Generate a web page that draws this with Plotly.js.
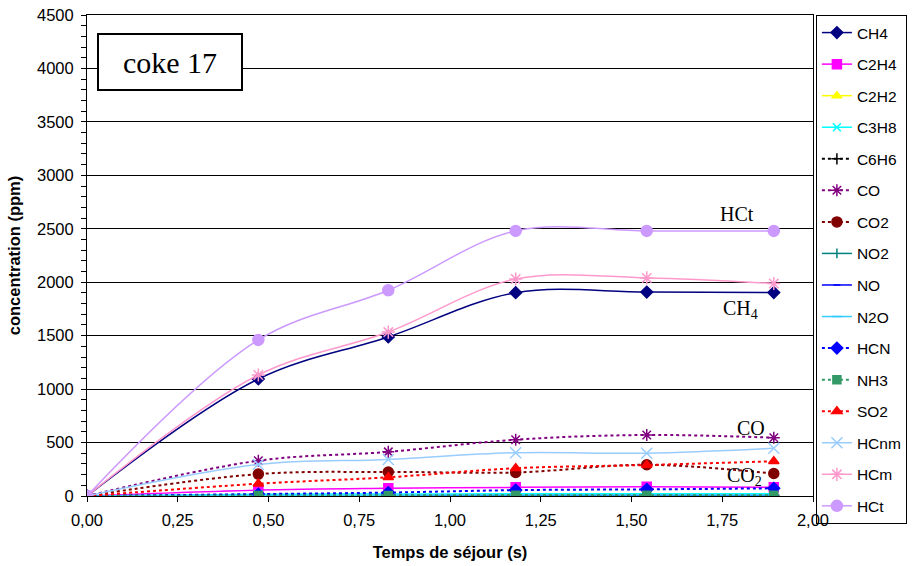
<!DOCTYPE html>
<html>
<head>
<meta charset="utf-8">
<script src="https://cdn.plot.ly/plotly-3.0.1.min.js"></script>
<style>html,body{margin:0;padding:0;background:#fff;}#chart{width:922px;height:566px;}</style>
</head>
<body>
<div id="chart"></div>
<script>
// Residence time (s)
const tempsSejour = [0, 0.472, 0.830, 1.181, 1.542, 1.892];
// Concentrations (ppm)
const CH4  = [0, 1095, 1488, 1902, 1908, 1903];
const C2H4 = [0, 55, 72, 81, 86, 82];
const C2H2 = [0, 2, 3, 4, 4, 4];
const C3H8 = [0, 16, 18, 20, 20, 20];
const C6H6 = [0, 5, 6, 7, 7, 7];
const CO   = [0, 330, 413, 527, 571, 545];
const CO2  = [0, 205, 225, 220, 292, 210];
const NO2  = [0, 3, 3, 4, 4, 4];
const NO   = [0, 2, 2, 2, 2, 2];
const N2O  = [0, 8, 8, 9, 9, 9];
const HCN  = [0, 18, 32, 55, 62, 72];
const NH3  = [0, 5, 5, 6, 6, 6];
const SO2  = [0, 115, 175, 260, 290, 325];
const HCnm = [0, 295, 342, 405, 400, 446];
const HCm  = [0, 1132, 1534, 2030, 2040, 1988];
const HCt  = [0, 1460, 1925, 2480, 2480, 2480];

const seriesNames = ["CH4","C2H4","C2H2","C3H8","C6H6","CO","CO2","NO2","NO","N2O","HCN","NH3","SO2","HCnm","HCm","HCt"];
const seriesData  = [CH4, C2H4, C2H2, C3H8, C6H6, CO, CO2, NO2, NO, N2O, HCN, NH3, SO2, HCnm, HCm, HCt];

const yTicks = [0,500,1000,1500,2000,2500,3000,3500,4000,4500];
const xTicks = [0,0.25,0.5,0.75,1,1.25,1.5,1.75,2];

const styles = [
  {color:"#000080", dash:"solid", symbol:"diamond", size:9, width:1.5},
  {color:"#FF00FF", dash:"solid", symbol:"square", size:9, width:1.5},
  {color:"#FFFF00", dash:"solid", symbol:"triangle-up", size:8, width:1.5},
  {color:"#00FFFF", dash:"solid", symbol:"x-thin-open", size:8, width:1.5},
  {color:"#000000", dash:"dot", symbol:"cross-thin-open", size:8, width:2},
  {color:"#800080", dash:"dot", symbol:"asterisk-open", size:10, width:2},
  {color:"#800000", dash:"dot", symbol:"circle", size:10, width:2},
  {color:"#008080", dash:"solid", symbol:"line-ns-open", size:7, width:1.5},
  {color:"#0000FF", dash:"solid", symbol:"line-ew-open", size:5, width:1.5},
  {color:"#33CCFF", dash:"solid", symbol:"line-ew-open", size:7, width:1.5},
  {color:"#0000FF", dash:"dot", symbol:"diamond", size:9, width:2},
  {color:"#339966", dash:"dot", symbol:"square", size:8, width:2},
  {color:"#FF0000", dash:"dot", symbol:"triangle-up", size:9, width:2},
  {color:"#99CCFF", dash:"solid", symbol:"x-thin-open", size:11, width:1.5},
  {color:"#FF99CC", dash:"solid", symbol:"asterisk-open", size:11, width:1.5},
  {color:"#CC99FF", dash:"solid", symbol:"circle", size:11, width:1.5}
];

const traces = seriesNames.map((name, i) => {
  const s = styles[i];
  return {
    x: tempsSejour, y: seriesData[i], name: name, legendgroup: name,
    type: "scatter", mode: "lines+markers",
    line: {color: s.color, dash: s.dash, width: s.width, shape: "spline", smoothing: 1},
    marker: {color: s.color, symbol: s.symbol, size: s.size, line: {color: s.color, width: 1.5}}
  };
});

const serif = "Liberation Serif, Times New Roman, serif";
const sans = "Liberation Sans, Arial, sans-serif";

const layout = {
  width: 922, height: 566,
  margin: {l: 87, r: 109, t: 15, b: 70, pad: 0, autoexpand: false},
  paper_bgcolor: "#fff", plot_bgcolor: "#fff",
  separators: ", ",
  showlegend: true,
  font: {family: sans, color: "#000", size: 16},
  xaxis: {
    range: [0, 2], tickvals: xTicks, tickformat: ".2f",
    ticks: "outside", ticklen: 5, tickcolor: "#000", ticklabelstandoff: 4,
    showline: true, linecolor: "#000", linewidth: 1, mirror: true,
    showgrid: false, zeroline: false, automargin: false,
    tickfont: {family: sans, size: 16.5},
    title: {text: "<b>Temps de séjour (s)</b>", font: {family: sans, size: 16.5}, standoff: 18}
  },
  yaxis: {
    range: [0, 4500], tickvals: yTicks, tickformat: "d",
    ticks: "outside", ticklen: 5, tickcolor: "#000", ticklabelstandoff: 4,
    minor: {dtick: 100, ticks: "outside", ticklen: 5, tickcolor: "#000", showgrid: false},
    showline: true, linecolor: "#000", linewidth: 1, mirror: true,
    showgrid: true, gridcolor: "#000", gridwidth: 1, zeroline: false, automargin: false,
    tickfont: {family: sans, size: 16.5},
    title: {text: "<b>concentration (ppm)</b>", font: {family: sans, size: 16.5}, standoff: 12}
  },
  legend: {
    x: 1.004, xanchor: "left", y: 1, yanchor: "top",
    bordercolor: "#000", borderwidth: 1, bgcolor: "rgba(255,255,255,0)",
    font: {family: sans, size: 15.5},
    tracegroupgap: 8.4, itemwidth: 30, traceorder: "grouped", maxheight: 560
  },
  annotations: [
    {x: 0.229, y: 4060, xref: "x", yref: "y", text: "coke 17", showarrow: false,
     font: {family: serif, size: 30, color: "#000"}, bordercolor: "#000", borderwidth: 2,
     bgcolor: "#fff", width: 140, height: 52, borderpad: 1},
    {x: 1.79, y: 2640, xref: "x", yref: "y", text: "HCt", showarrow: false,
     font: {family: serif, size: 20, color: "#000"}},
    {x: 1.80, y: 1745, xref: "x", yref: "y", text: "CH<sub>4</sub>", showarrow: false,
     font: {family: serif, size: 20, color: "#000"}},
    {x: 1.83, y: 640, xref: "x", yref: "y", text: "CO", showarrow: false,
     font: {family: serif, size: 20, color: "#000"}},
    {x: 1.81, y: 180, xref: "x", yref: "y", text: "CO<sub>2</sub>", showarrow: false,
     font: {family: serif, size: 20, color: "#000"}}
  ]
};

Plotly.newPlot("chart", traces, layout, {displayModeBar: false, staticPlot: true});
</script>
</body>
</html>
